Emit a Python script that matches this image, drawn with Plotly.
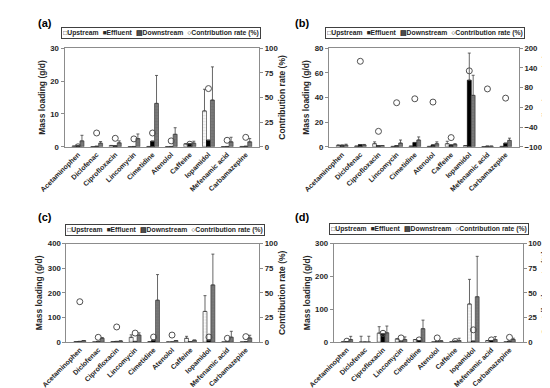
import plotly.graph_objects as go

categories = ["Acetaminophen", "Diclofenac", "Ciprofloxacin", "Lincomycin", "Cimetidine",
              "Atenolol", "Caffeine", "Iopamidol", "Mefenamic acid", "Carbamazepine"]

# ---- Panel (a) ----
a_up = [0.2, 0.05, 0.4, 0.05, 0.1, 0.05, 0.9, 10.9, 0.05, 0.1]
a_up_err = [None, None, None, None, None, None, None, 6.6, None, None]
a_eff = [0.3, 0.15, 0.3, 0.1, 1.7, 0.1, 0.9, 2.0, 0.1, 0.15]
a_eff_err = [None] * 10
a_down = [1.8, 1.1, 1.2, 2.5, 13.2, 3.8, 1.1, 14.2, 1.5, 1.5]
a_down_err = [1.7, 0.5, 0.6, 1.4, 8.5, 2.0, 0.6, 10.1, 1.4, 1.0]
a_rate = [0, 14, 8.6, 8, 14, 6, 2.6, 59, 6.6, 9.6]

# ---- Panel (b) ----
b_up = [1.0, 0.5, 2.5, 0.3, 0.5, 0.3, 2.5, 1.0, 0.1, 0.3]
b_up_err = [0.6, None, 1.5, None, None, None, 2.0, None, None, None]
b_eff = [1.3, 1.8, 1.0, 1.0, 3.5, 1.5, 1.5, 54, 0.5, 2.9]
b_eff_err = [None, None, None, None, None, None, None, 22, None, None]
b_down = [1.3, 1.5, 1.0, 3.0, 5.5, 2.5, 2.0, 41.7, 0.5, 5.2]
b_down_err = [0.8, 0.4, None, 2.5, 2.5, 1.5, 0.5, 16.3, None, 1.8]
b_rate = [None, 160, -53, 34, 46, 36, -72, 131, 76, 48]

# ---- Panel (c) ----
c_up = [2, 0.5, 2, 19.7, 2, 0.5, 15.7, 124.6, 0.5, 0.5]
c_up_err = [None, None, None, 10, None, None, 8, 64, None, None]
c_eff = [3, 3, 3, 3, 8, 1, 2, 8, 2, 2]
c_eff_err = [None] * 10
c_down = [6.5, 15.7, 5, 28.8, 170, 6.5, 8, 232, 20, 17]
c_down_err = [None, 3, None, 9, 104, None, None, 125, 24, 11]
c_rate = [41, 4.9, 15.4, 9.2, 5.2, 7.2, None, 5.2, 3.9, 5.6]

# ---- Panel (d) ----
d_up = [1, 0.5, 27.5, 10, 8, 0.5, 1, 116, 5, 0.5]
d_up_err = [None, 17.5, 19.5, None, None, None, None, 75, None, None]
d_eff = [2, 0.3, 25, 2, 5, 2, 3, 3, 5, 3]
d_eff_err = [None] * 10
d_down = [8, 0.5, 28.5, 8, 41, 4, 5, 138, 8, 8]
d_down_err = [9.7, 17.5, 20.5, 8, 26, None, 7, 123, 9, 4]
d_rate = [1, None, 9, 4.3, 2.3, 4.3, 0.7, 12.5, 2.3, 4.9]

panels = [
    dict(label="(a)", up=a_up, upe=a_up_err, eff=a_eff, effe=a_eff_err, down=a_down, downe=a_down_err,
         rate=a_rate, lrange=[0, 30], ldtick=10, rrange=[0, 100], rticks=[0, 25, 50, 75, 100],
         px=(33, 237), py=(37, 138), lab=(3, 11), leg=(134, 22)),
    dict(label="(b)", up=b_up, upe=b_up_err, eff=b_eff, effe=b_eff_err, down=b_down, downe=b_down_err,
         rate=b_rate, lrange=[0, 80], ldtick=20, rrange=[-100, 200], rticks=[-100, -40, 20, 80, 140, 200],
         px=(310, 509), py=(37, 138), lab=(272, 11), leg=(411, 22)),
    dict(label="(c)", up=c_up, upe=c_up_err, eff=c_eff, effe=c_eff_err, down=c_down, downe=c_down_err,
         rate=c_rate, lrange=[0, 400], ldtick=100, rrange=[0, 100], rticks=[0, 25, 50, 75, 100],
         px=(35, 237), py=(237, 338), lab=(3, 210), leg=(138, 223)),
    dict(label="(d)", up=d_up, upe=d_up_err, eff=d_eff, effe=d_eff_err, down=d_down, downe=d_down_err,
         rate=d_rate, lrange=[0, 300], ldtick=100, rrange=[0, 100], rticks=[0, 25, 50, 75, 100],
         px=(315, 513), py=(237, 338), lab=(272, 210), leg=(415, 222)),
]

W, H = 550, 388
FONT = "Arial, Liberation Sans, sans-serif"
AXC = "#8c8c8c"
TXT = "#262626"

fig = go.Figure()
layout = dict(width=W, height=H, margin=dict(l=0, r=0, t=0, b=0), paper_bgcolor="white",
              plot_bgcolor="white", barmode="group", bargap=0.36, bargroupgap=0.0,
              showlegend=False, font=dict(family=FONT, color=TXT, size=8, weight="bold"))
annotations = []


def err(vals, errs):
    return dict(type="data", symmetric=False, array=[e if e is not None else None for e in errs],
                arrayminus=[0 if e is not None else None for e in errs],
                color="#404040", thickness=0.8, width=1.5, visible=True)


for i, p in enumerate(panels):
    xn = "x" if i == 0 else f"x{i+1}"
    yl = 2 * i + 1
    yr = 2 * i + 2
    yln = "y" if yl == 1 else f"y{yl}"
    yrn = f"y{yr}"
    fig.add_trace(go.Bar(x=categories, y=p["up"], name="Upstream", xaxis=xn, yaxis=yln,
                         marker=dict(color="white", line=dict(color="#404040", width=0.7),
                                     pattern=dict(shape=".", fgcolor="#b0b0b0", size=3, solidity=0.3)),
                         error_y=err(p["up"], p["upe"])))
    fig.add_trace(go.Bar(x=categories, y=p["eff"], name="Effluent", xaxis=xn, yaxis=yln,
                         marker=dict(color="black", line=dict(color="black", width=0.7)),
                         error_y=err(p["eff"], p["effe"])))
    fig.add_trace(go.Bar(x=categories, y=p["down"], name="Downstream", xaxis=xn, yaxis=yln,
                         marker=dict(color="#7a7a7a", line=dict(color="#404040", width=0.7),
                                     pattern=dict(shape="+", fgcolor="#5a5a5a", size=3, solidity=0.3)),
                         error_y=err(p["down"], p["downe"])))
    fig.add_trace(go.Scatter(x=categories, y=p["rate"], name="Contribution rate (%)", mode="markers",
                             xaxis=xn, yaxis=yrn,
                             marker=dict(symbol="circle-open", size=6, color="#505050",
                                         line=dict(width=1, color="#505050"))))

    x0, x1 = p["px"]
    y0, y1 = p["py"]
    xdom = [x0 / W, x1 / W]
    ydom = [1 - y1 / H, 1 - y0 / H]
    tf = dict(family=FONT, size=7.8, color=TXT, weight="bold")
    layout["xaxis" if i == 0 else f"xaxis{i+1}"] = dict(
        domain=xdom, anchor=yln, showline=True, linecolor=AXC, linewidth=1, mirror=True,
        ticks="", tickangle=-45, tickfont=dict(family=FONT, size=7, color=TXT, weight="bold"),
        showgrid=False, zeroline=False, fixedrange=True)
    layout["yaxis" if yl == 1 else f"yaxis{yl}"] = dict(
        domain=ydom, anchor=xn, range=p["lrange"], dtick=p["ldtick"], showline=True, linecolor=AXC,
        linewidth=1, ticks="outside", ticklen=3, tickcolor=AXC, showgrid=False, zeroline=False,
        tickfont=tf, title=dict(text="Mass loading (g/d)", font=dict(family=FONT, size=8.5, color=TXT,
                                                                       weight="bold"), standoff=3))
    layout[f"yaxis{yr}"] = dict(
        overlaying=yln, anchor=xn, side="right", range=p["rrange"], tickvals=p["rticks"],
        showline=True, linecolor=AXC, linewidth=1, ticks="outside", ticklen=3, tickcolor=AXC,
        showgrid=False, zeroline=False, tickfont=tf,
        title=dict(text="Contribution rate (%)", font=dict(family=FONT, size=8.5, color=TXT,
                                                           weight="bold"), standoff=1))

    annotations.append(dict(text=p["label"], x=p["lab"][0] / W, y=1 - p["lab"][1] / H, xref="paper",
                            yref="paper", xanchor="left", yanchor="middle", showarrow=False,
                            font=dict(family=FONT, size=11, color="black", weight="bold")))
    annotations.append(dict(
        text="□Upstream  ■Effluent  ▤Downstream  ○Contribution rate (%)",
        x=p["leg"][0] / W, y=1 - p["leg"][1] / H, xref="paper", yref="paper",
        xanchor="center", yanchor="middle", showarrow=False, width=196, height=8,
        bordercolor="#404040", borderwidth=1, borderpad=1, bgcolor="white",
        font=dict(family=FONT, size=6.8, color=TXT, weight="bold")))

layout["annotations"] = annotations
fig.update_layout(**layout)
fig.write_html("out.html")
